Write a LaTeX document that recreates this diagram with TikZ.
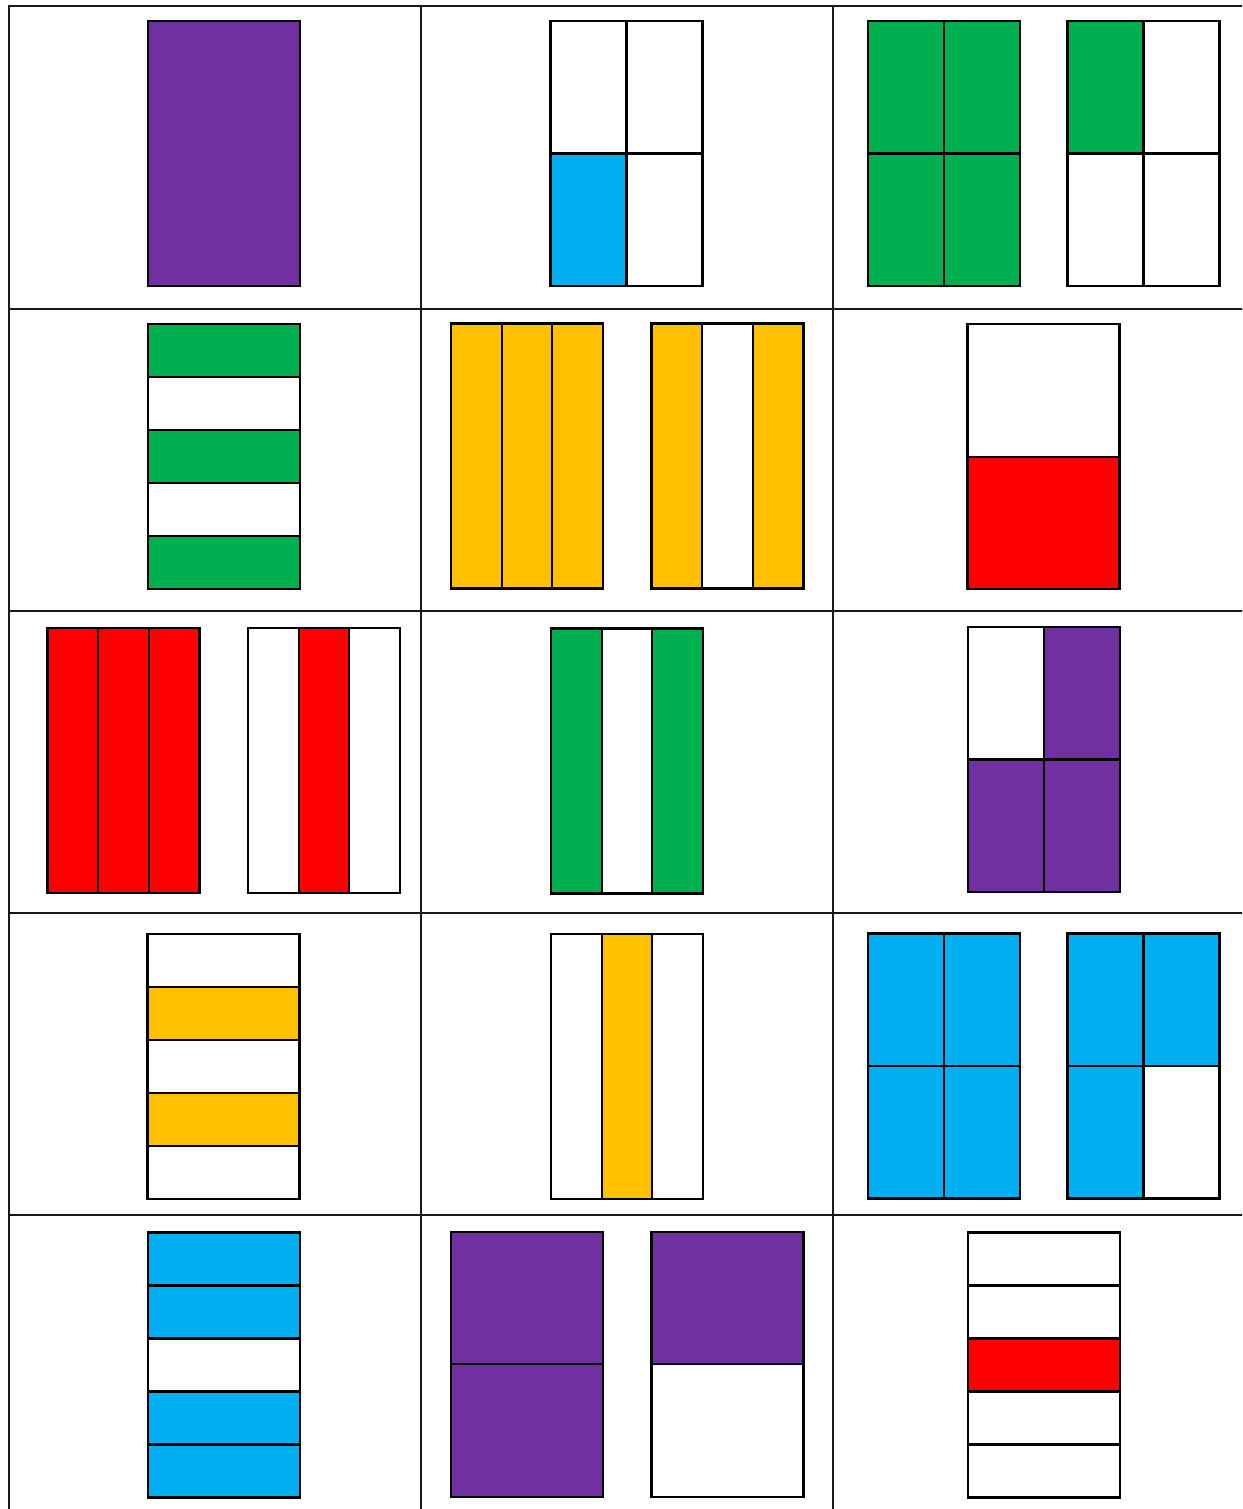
\documentclass[tikz,border=0pt]{standalone}
\definecolor{cpur}{HTML}{7030A0}
\definecolor{cblu}{HTML}{00B0F0}
\definecolor{cgrn}{HTML}{00B050}
\definecolor{cyel}{HTML}{FFC000}
\definecolor{cred}{HTML}{FF0000}
\tikzset{bd/.style={draw=black,line width=2.2pt,line join=miter},
  gridline/.style={draw=black!90,line width=2pt}}
\newcommand{\vbars}[5]{\begin{scope}[shift={(#1,#2)}]
 \fill[#3] (0,0) rectangle (50.67,265);
 \fill[#4] (50.67,0) rectangle (101.33,265);
 \fill[#5] (101.33,0) rectangle (152,265);
 \draw[bd] (0,0) rectangle (152,265) (50.67,0)--(50.67,265) (101.33,0)--(101.33,265);
\end{scope}}
\newcommand{\hbars}[7]{\begin{scope}[shift={(#1,#2)}]
 \fill[#3] (0,0) rectangle (152,53);
 \fill[#4] (0,53) rectangle (152,106);
 \fill[#5] (0,106) rectangle (152,159);
 \fill[#6] (0,159) rectangle (152,212);
 \fill[#7] (0,212) rectangle (152,265);
 \draw[bd] (0,0) rectangle (152,265) (0,53)--(152,53) (0,106)--(152,106) (0,159)--(152,159) (0,212)--(152,212);
\end{scope}}
\newcommand{\quadbox}[6]{\begin{scope}[shift={(#1,#2)}]
 \fill[#3] (0,0) rectangle (76,132.5);
 \fill[#4] (76,0) rectangle (152,132.5);
 \fill[#5] (0,132.5) rectangle (76,265);
 \fill[#6] (76,132.5) rectangle (152,265);
 \draw[bd] (0,0) rectangle (152,265) (76,0)--(76,265) (0,132.5)--(152,132.5);
\end{scope}}
\newcommand{\halfbox}[5]{\begin{scope}[shift={(#1,#2)}]
 \fill[#3] (0,0) rectangle (152,#5);
 \fill[#4] (0,#5) rectangle (152,265);
 \draw[bd] (0,0) rectangle (152,265) (0,#5)--(152,#5);
\end{scope}}
\newcommand{\wholebox}[3]{\begin{scope}[shift={(#1,#2)}]
 \filldraw[bd,fill=#3] (0,0) rectangle (152,265);
\end{scope}}
\begin{document}
\begin{tikzpicture}[x=1pt,y=-1pt]
\useasboundingbox (0,0) rectangle (1242,1509);
\fill[white] (0,0) rectangle (1242,1509);
\begin{scope}
\clip (0,0) rectangle (1242,1509);
\foreach \yy in {6,308.5,611,913,1215} \draw[gridline] (8,\yy) -- (1250,\yy);
\foreach \xx in {9,421,833} \draw[gridline] (\xx,5) -- (\xx,1515);
\end{scope}
% row 1
\wholebox{148}{21}{cpur}
\quadbox{550.5}{21}{white}{white}{cblu}{white}
\quadbox{868}{21}{cgrn}{cgrn}{cgrn}{cgrn}
\quadbox{1067.5}{21}{cgrn}{white}{white}{white}
% row 2
\hbars{148}{324}{cgrn}{white}{cgrn}{white}{cgrn}
\vbars{451}{323.5}{cyel}{cyel}{cyel}
\vbars{651.5}{323.5}{cyel}{white}{cyel}
\halfbox{967.5}{324}{white}{cred}{133}
% row 3
\vbars{47.5}{628}{cred}{cred}{cred}
\vbars{248}{628}{white}{cred}{white}
\vbars{551}{628.5}{cgrn}{white}{cgrn}
\quadbox{968}{627}{white}{cpur}{cpur}{cpur}
% row 4
\hbars{147.5}{934}{white}{cyel}{white}{cyel}{white}
\vbars{551}{934}{white}{cyel}{white}
\quadbox{868}{933.5}{cblu}{cblu}{cblu}{cblu}
\quadbox{1067.5}{933.5}{cblu}{cblu}{cblu}{white}
% row 5
\hbars{148}{1232.5}{cblu}{cblu}{white}{cblu}{cblu}
\halfbox{451}{1232}{cpur}{cpur}{132}
\halfbox{651.5}{1232}{cpur}{white}{132}
\hbars{968}{1232.5}{white}{white}{cred}{white}{white}
\end{tikzpicture}
\end{document}
